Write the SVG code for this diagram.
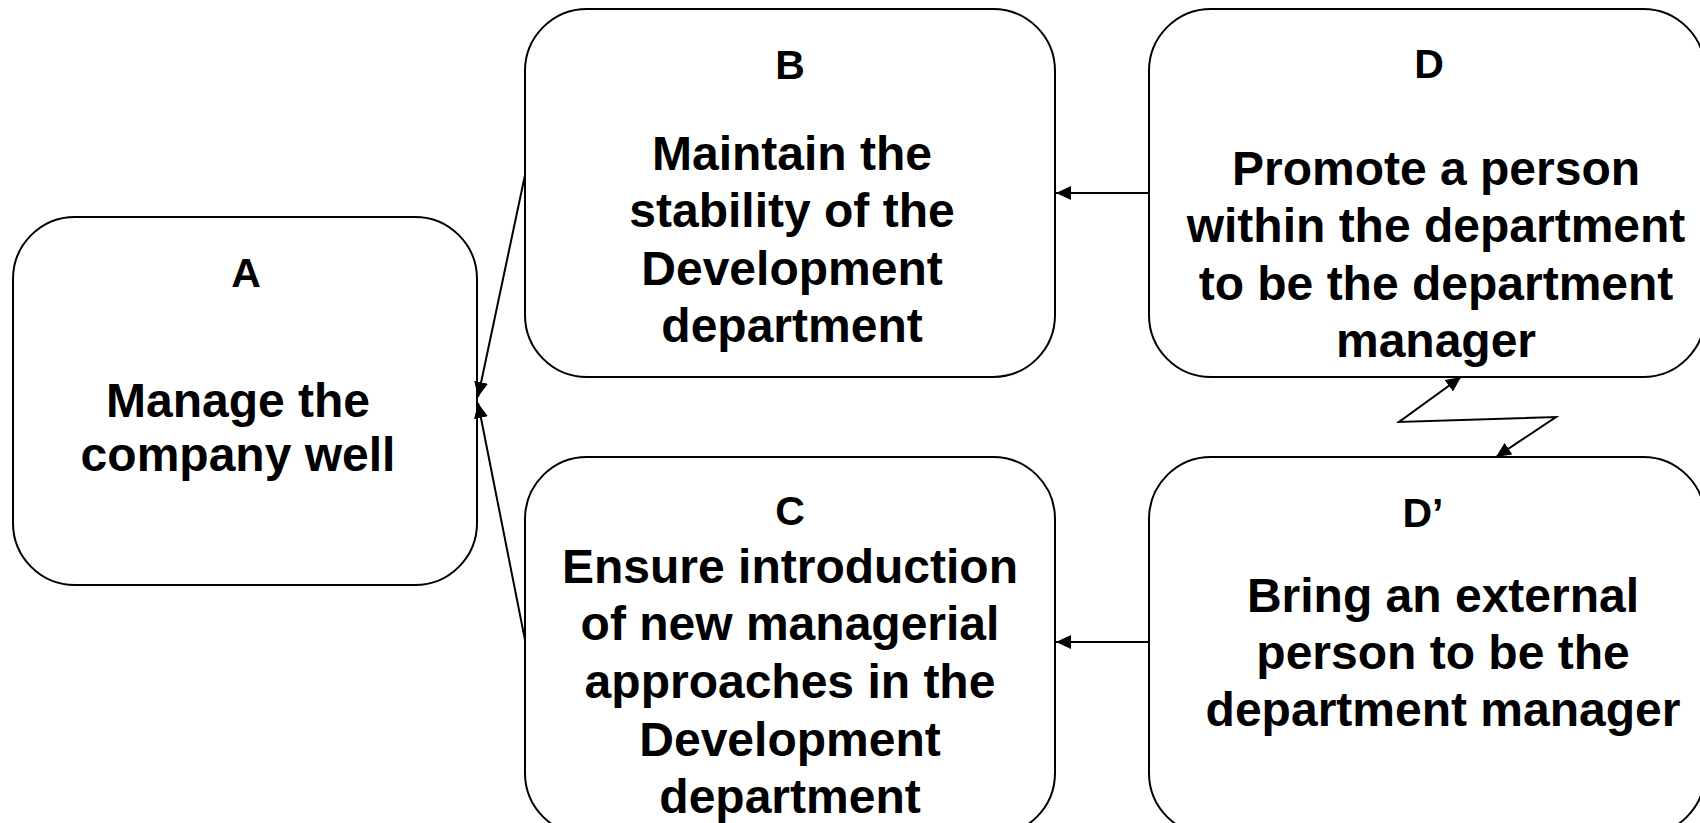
<svg xmlns="http://www.w3.org/2000/svg" width="1700" height="823" viewBox="0 0 1700 823">
<style>
.box{fill:#fff;stroke:#000;stroke-width:2}
.lbl{font-family:"Liberation Sans",Arial,sans-serif;font-weight:bold;font-size:41px;fill:#000;text-anchor:middle}
.txt{font-family:"Liberation Sans",Arial,sans-serif;font-weight:bold;font-size:48px;fill:#000;text-anchor:middle}
.con{fill:none;stroke:#000;stroke-width:2}
</style>
<defs>
<marker id="arr" viewBox="0 0 15 14" refX="15" refY="7" markerWidth="15" markerHeight="14" markerUnits="userSpaceOnUse" orient="auto-start-reverse">
<path d="M0,0 L15,7 L0,14 z" fill="#000"/>
</marker>
</defs>
<rect width="1700" height="823" fill="#fff"/>
<g id="nodeA">
<rect class="box" x="13" y="217" width="464" height="368" rx="62" ry="62"/>
<text class="lbl" x="246" y="287">A</text>
<text class="txt" x="238" y="417">Manage the</text>
<text class="txt" x="238" y="471">company well</text>
</g>
<g id="nodeB">
<rect class="box" x="525" y="9" width="530" height="368" rx="62" ry="62"/>
<text class="lbl" x="790" y="79">B</text>
<text class="txt" x="792" y="170">Maintain the</text>
<text class="txt" x="792" y="227">stability of the</text>
<text class="txt" x="792" y="285">Development</text>
<text class="txt" x="792" y="342">department</text>
</g>
<g id="nodeC">
<rect class="box" x="525" y="457" width="530" height="378" rx="62" ry="62"/>
<text class="lbl" x="790" y="525">C</text>
<text class="txt" x="790" y="583">Ensure introduction</text>
<text class="txt" x="790" y="640">of new managerial</text>
<text class="txt" x="790" y="698">approaches in the</text>
<text class="txt" x="790" y="756">Development</text>
<text class="txt" x="790" y="813">department</text>
</g>
<g id="nodeD">
<rect class="box" x="1149" y="9" width="556" height="368" rx="62" ry="62"/>
<text class="lbl" x="1429" y="78">D</text>
<text class="txt" x="1436" y="185">Promote a person</text>
<text class="txt" x="1436" y="242">within the department</text>
<text class="txt" x="1436" y="300">to be the department</text>
<text class="txt" x="1436" y="357">manager</text>
</g>
<g id="nodeDprime">
<rect class="box" x="1149" y="457" width="556" height="378" rx="62" ry="62"/>
<text class="lbl" x="1423" y="527">D’</text>
<text class="txt" x="1443" y="612">Bring an external</text>
<text class="txt" x="1443" y="669">person to be the</text>
<text class="txt" x="1443" y="726">department manager</text>
</g>
<g id="connectors">
<line class="con" x1="1149" y1="193" x2="1056" y2="193" marker-end="url(#arr)"/>
<line class="con" x1="1149" y1="642" x2="1056" y2="642" marker-end="url(#arr)"/>
<line class="con" x1="525" y1="175" x2="478" y2="397" marker-end="url(#arr)"/>
<line class="con" x1="525" y1="640" x2="478" y2="403" marker-end="url(#arr)"/>
<path class="con" d="M1496,457 L1556,417 L1399,422 L1461,377" marker-start="url(#arr)" marker-end="url(#arr)"/>
</g>
</svg>
